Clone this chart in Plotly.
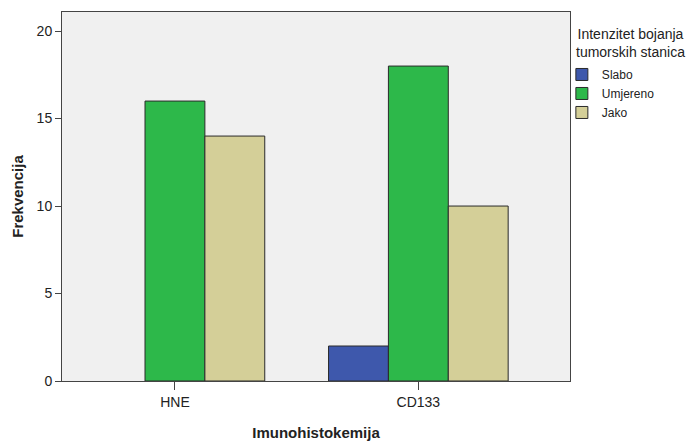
import plotly.graph_objects as go

categories = ['HNE', 'CD133']
cat_pos = [0, 1]
slabo = [0, 2]
umjereno = [16, 18]
jako = [14, 10]

series = [('Slabo', slabo, '#3E58AC'),
          ('Umjereno', umjereno, '#2DB84A'),
          ('Jako', jako, '#D4CF98')]

fig = go.Figure()

# one bar per intensity, shifted around the category tick; zero counts draw nothing
w = 0.246
offsets = [-w, 0, w]
for (name, vals, color), off in zip(series, offsets):
    fig.add_trace(go.Bar(x=[p + off for p in cat_pos], y=[v if v else None for v in vals],
                         name=name, width=w,
                         marker={'color': color, 'line': {'color': '#2a2a2a', 'width': 1}}))

# legend title as a centred block
fig.add_annotation(text='Intenzitet bojanja<br>tumorskih stanica', xref='paper', yref='paper',
                   x=1.12, y=0.968, xanchor='center', yanchor='top', showarrow=False,
                   font={'size': 14, 'color': '#222'})

fig.update_layout(
    width=688, height=444,
    margin={'l': 62, 'r': 118, 't': 12, 'b': 63},
    paper_bgcolor='white', plot_bgcolor='#F0F0F0',
    font={'family': 'Liberation Sans, Arial', 'size': 14, 'color': '#222'},
    showlegend=True,
    legend={'x': 0.984, 'xanchor': 'left', 'y': 0.87, 'yanchor': 'top',
            'bgcolor': 'rgba(0,0,0,0)', 'font': {'size': 12}, 'itemwidth': 30,
            'tracegroupgap': 0},
    xaxis={'title': {'text': '<b>Imunohistokemija</b>', 'font': {'size': 15}, 'standoff': 18},
           'automargin': False,
           'tickvals': cat_pos, 'ticktext': categories, 'range': [-0.464, 1.623],
           'showgrid': False, 'zeroline': False, 'showline': True, 'mirror': True,
           'linecolor': '#444', 'linewidth': 1, 'ticks': 'outside', 'ticklen': 8,
           'tickcolor': '#444'},
    yaxis={'title': {'text': '<b>Frekvencija</b>', 'font': {'size': 15}, 'standoff': 9},
           'automargin': False,
           'range': [0, 21.09], 'tickvals': [0, 5, 10, 15, 20],
           'showgrid': False, 'zeroline': False, 'showline': True, 'mirror': True,
           'linecolor': '#444', 'linewidth': 1, 'ticks': 'outside', 'ticklen': 6,
           'tickcolor': '#444'},
)

# the page has a default body margin; drop it so the figure fills the window
fig.write_html("out.html", config={'displayModeBar': False},
               post_script="document.body.style.margin='0';")
